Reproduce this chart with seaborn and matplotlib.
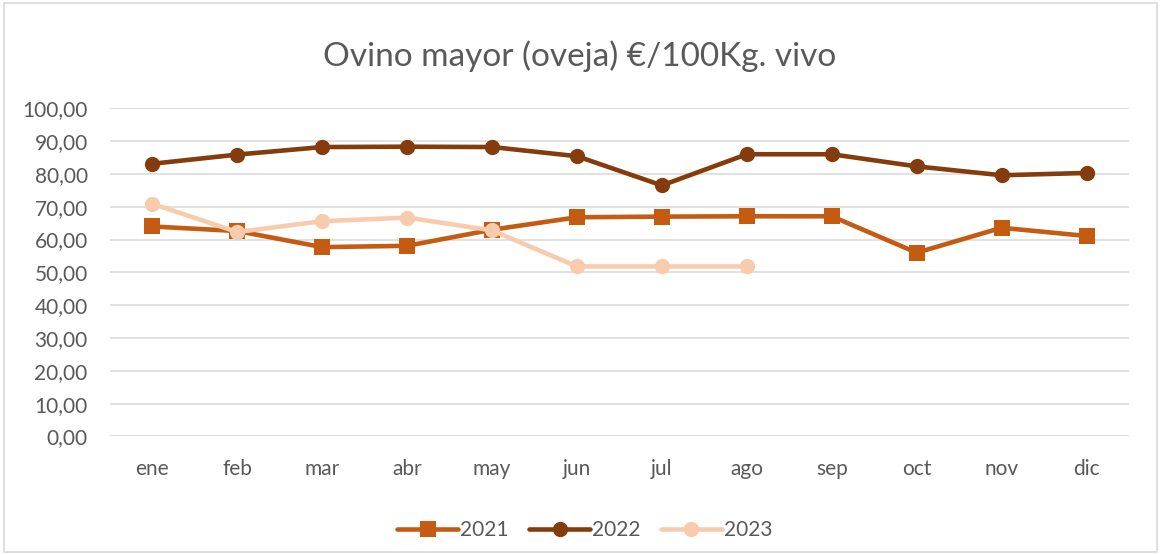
import matplotlib
matplotlib.use("Agg")
import matplotlib.pyplot as plt
import seaborn as sns
import pandas as pd
from matplotlib.patches import Rectangle

months = ["ene", "feb", "mar", "abr", "may", "jun", "jul", "ago", "sep", "oct", "nov", "dic"]
v2021 = [64.0, 62.6, 57.7, 58.1, 63.0, 66.8, 67.0, 67.1, 67.1, 56.0, 63.6, 61.1]
v2022 = [83.1, 85.9, 88.2, 88.3, 88.2, 85.4, 76.5, 86.0, 86.0, 82.3, 79.6, 80.3]
v2023 = [70.9, 62.3, 65.6, 66.7, 62.8, 51.8, 51.8, 51.8]
yticks = [0, 10, 20, 30, 40, 50, 60, 70, 80, 90, 100]
title = "Ovino mayor (oveja) €/100Kg. vivo"

series = [("2021", v2021, "#C55A11", "s"),
          ("2022", v2022, "#843C0C", "o"),
          ("2023", v2023, "#F8CBAD", "o")]

sns.set_theme(style="white")
plt.rcParams['font.family'] = ['Lato', 'DejaVu Sans']
txt = "#595959"

fig = plt.figure(figsize=(11.71, 5.54), dpi=100)
ax = fig.add_axes([0.0939, 0.2121, 0.8702, 0.5924])

for name, vals, col, mk in series:
    df = pd.DataFrame({"mes": months[:len(vals)], "valor": vals})
    sns.lineplot(data=df, x="mes", y="valor", ax=ax, color=col, marker=mk,
                 markersize=11, markeredgewidth=0, linewidth=3.3, label=name,
                 sort=False)

ax.set_xlim(-0.5, 11.5)
ax.set_ylim(0, 100)
ax.set_yticks(yticks)
ax.set_yticklabels([f"{t:.2f}".replace(".", ",") for t in yticks])
ax.set_xticks(range(len(months)))
ax.set_xticklabels(months)
ax.set_xlabel("")
ax.set_ylabel("")
ax.yaxis.grid(True, color="#D9D9D9", linewidth=1.1)
ax.xaxis.grid(False)
for s in ax.spines.values():
    s.set_visible(False)
ax.tick_params(axis="both", length=0, labelsize=15, colors=txt)
ax.tick_params(axis="y", pad=16)
ax.tick_params(axis="x", pad=16)
ax.set_axisbelow(True)

fig.text(0.495, 0.898, title, ha="center", va="center", fontsize=24, color=txt)

leg = ax.legend(loc="center", bbox_to_anchor=(0.466, -0.285), ncol=3, frameon=False,
                fontsize=15, handlelength=2.9, handletextpad=0.1, columnspacing=1.0)
for t in leg.get_texts():
    t.set_color(txt)

fig.patches.append(Rectangle((0.003, 0.004), 0.985, 0.99, transform=fig.transFigure,
                             fill=False, edgecolor="#D9D9D9", linewidth=1.2))

fig.savefig("out.png", dpi=100)
